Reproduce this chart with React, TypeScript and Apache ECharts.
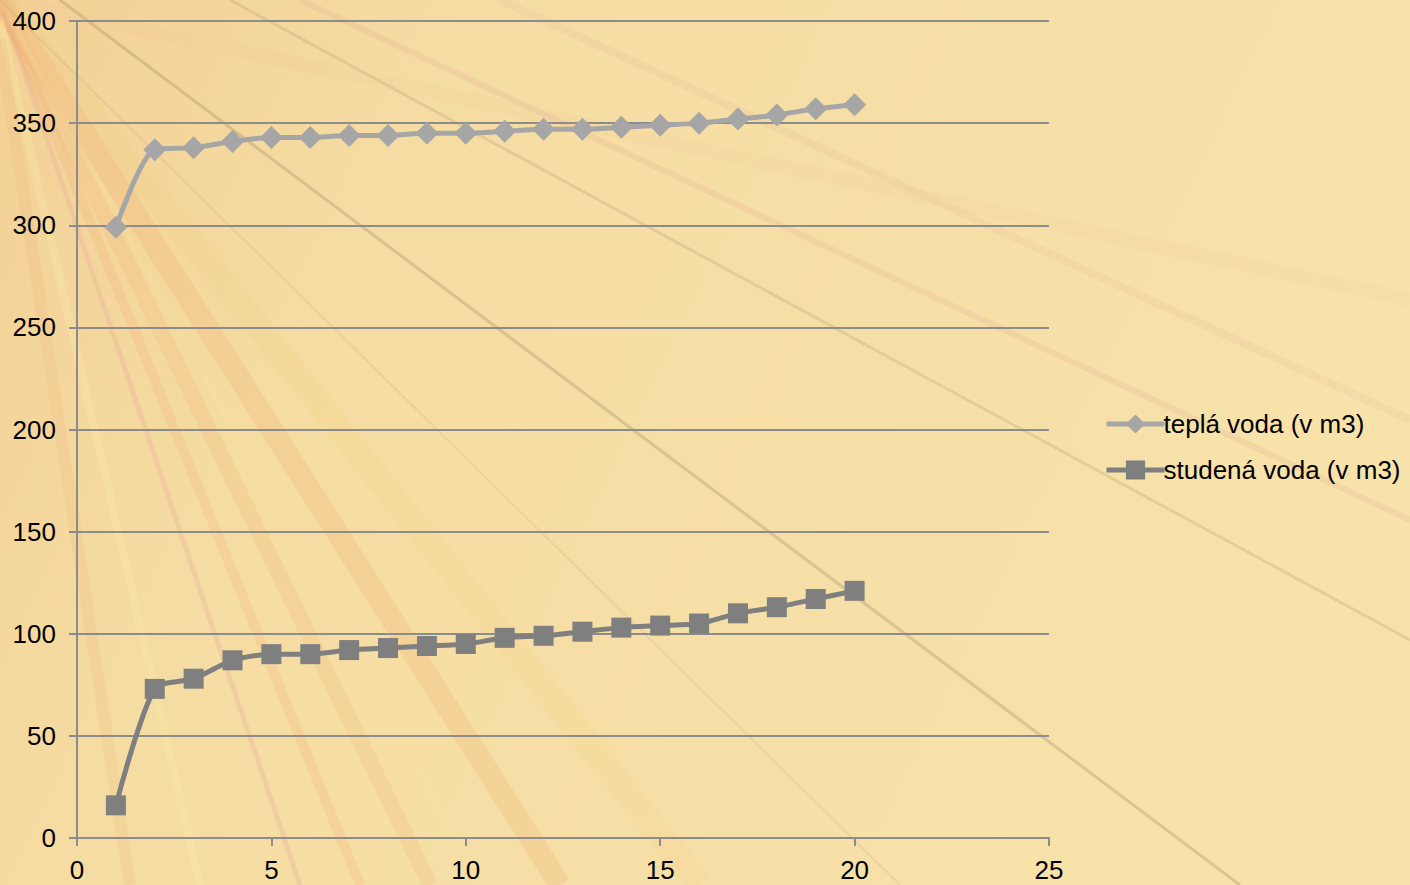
import React, { useEffect, useRef } from "react";
import * as echarts from "echarts";

const xValues = [1, 2, 3, 4, 5, 6, 7, 8, 9, 10, 11, 12, 13, 14, 15, 16, 17, 18, 19, 20];
const warmWater = [299, 337, 338, 341, 343, 343, 344, 344, 345, 345, 346, 347, 347, 348, 349, 350, 352, 354, 357, 359];
const coldWater = [16, 73, 78, 87, 90, 90, 92, 93, 94, 95, 98, 99, 101, 103, 104, 105, 110, 113, 117, 121];
const seriesNames = ["teplá voda (v m3)", "studená voda (v m3)"];

// decorative background streaks: [x1, y1, x2, y2, color, width]
const streaks: [number, number, number, number, string, number][] = [
  [60, 0, 1240, 885, "rgba(120,100,70,0.22)", 3],
  [230, 0, 1410, 640, "rgba(130,110,80,0.16)", 3],
  [300, 0, 1410, 520, "rgba(220,140,140,0.14)", 6],
  [0, 0, 560, 885, "rgba(235,150,90,0.16)", 22],
  [0, 0, 430, 885, "rgba(240,170,110,0.18)", 16],
  [0, 0, 300, 885, "rgba(225,150,150,0.2)", 5],
  [0, 20, 200, 885, "rgba(250,240,170,0.3)", 8],
  [0, 40, 130, 885, "rgba(235,180,120,0.2)", 12],
  [0, 0, 700, 885, "rgba(240,200,120,0.15)", 26],
  [0, 0, 1410, 300, "rgba(240,200,150,0.12)", 14],
  [500, 0, 1410, 420, "rgba(230,170,150,0.14)", 8],
  [0, 0, 900, 885, "rgba(150,120,80,0.1)", 2],
  [0, 0, 360, 885, "rgba(240,150,100,0.14)", 10],
  [0, 0, 480, 885, "rgba(250,230,160,0.2)", 6],
];

export default function App() {
  const ref = useRef<HTMLDivElement>(null);
  useEffect(() => {
    if (!ref.current) return;
    const chart = echarts.init(ref.current, undefined, { renderer: "svg" });
    const toPairs = (arr: number[]) => xValues.map((x, i) => [x, arr[i]]);
    const font = "Liberation Sans, Arial, sans-serif";
    chart.setOption({
      animation: false,
      backgroundColor: {
        type: "linear",
        x: 0, y: 0, x2: 1, y2: 0.3,
        colorStops: [
          { offset: 0, color: "#F3D096" },
          { offset: 0.3, color: "#F5DCA2" },
          { offset: 1, color: "#F7E2AA" },
        ],
      },
      graphic: streaks.map(([x1, y1, x2, y2, color, w]) => ({
        type: "line",
        z: -10,
        silent: true,
        shape: { x1, y1, x2, y2 },
        style: { stroke: color, lineWidth: w },
      })),
      textStyle: { fontFamily: font },
      grid: { left: 77, right: 361, top: 21, bottom: 47, containLabel: false },
      legend: {
        orient: "vertical",
        left: 1099,
        top: 406,
        itemWidth: 58,
        itemHeight: 24,
        itemGap: 20,
        lineStyle: { width: 5 },
        textStyle: { fontSize: 26, color: "#000", fontFamily: font, padding: [0, 0, 0, -6] },
        data: seriesNames,
      },
      xAxis: {
        type: "value",
        min: 0,
        max: 25,
        interval: 5,
        axisLine: { show: true, lineStyle: { color: "#8C8C8C", width: 2 } },
        axisTick: { show: true, length: 8, lineStyle: { color: "#8C8C8C", width: 2 } },
        axisLabel: { fontSize: 26, color: "#000", margin: 19, fontFamily: font },
        splitLine: { show: false },
      },
      yAxis: {
        type: "value",
        min: 0,
        max: 400,
        interval: 50,
        axisLine: { show: true, lineStyle: { color: "#8C8C8C", width: 2 } },
        axisTick: { show: true, length: 8, lineStyle: { color: "#8C8C8C", width: 2 } },
        axisLabel: { fontSize: 26, color: "#000", margin: 21, fontFamily: font },
        splitLine: { show: true, lineStyle: { color: "#8C8C8C", width: 2 } },
      },
      series: [
        {
          name: seriesNames[0],
          type: "line",
          data: toPairs(warmWater),
          smooth: 0.25,
          symbol: "diamond",
          symbolSize: 23,
          itemStyle: { color: "#A6A6A6" },
          lineStyle: { color: "#A6A6A6", width: 5 },
        },
        {
          name: seriesNames[1],
          type: "line",
          data: toPairs(coldWater),
          smooth: 0.25,
          symbol: "rect",
          symbolSize: 20,
          itemStyle: { color: "#7F7F7F" },
          lineStyle: { color: "#7F7F7F", width: 5 },
        },
      ],
    });
    return () => chart.dispose();
  }, []);
  return (
    <div
      ref={ref}
      style={{ position: "fixed", left: 0, top: 0, width: 1410, height: 885 }}
    />
  );
}
